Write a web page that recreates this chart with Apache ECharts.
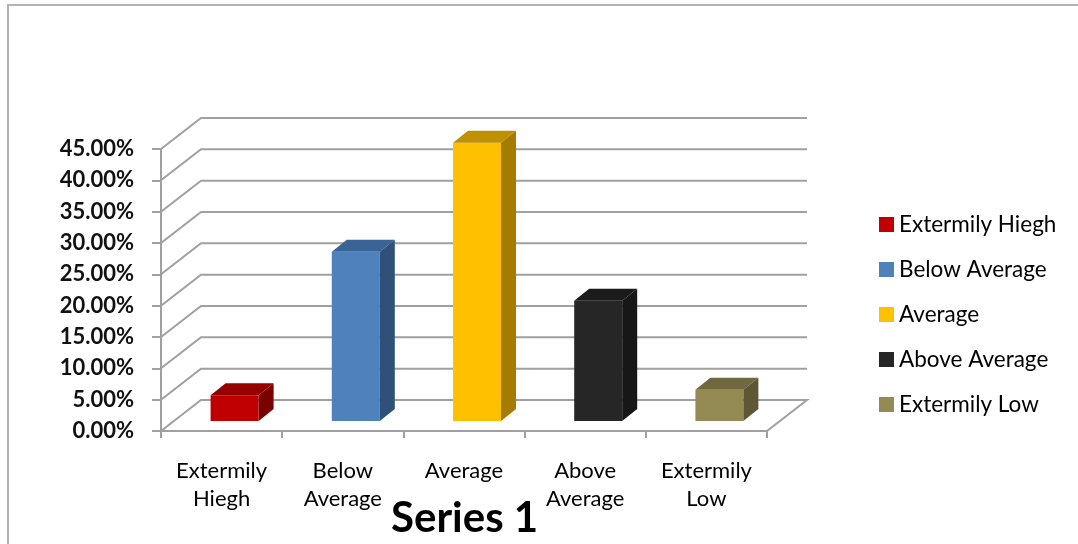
<!DOCTYPE html>
<html>
<head>
<meta charset="utf-8">
<script src="https://cdn.jsdelivr.net/npm/echarts@6/dist/echarts.min.js"></script>
<style>
html,body{margin:0;padding:0;background:#fff;}
#chart{width:1078px;height:544px;}
</style>
</head>
<body>
<div id="chart"></div>
<script>
// data
var categories=['Extermily Hiegh','Below Average','Average','Above Average','Extermily Low'];
var values=[0.041,0.270,0.444,0.192,0.050];
var yTicks=[0,0.05,0.10,0.15,0.20,0.25,0.30,0.35,0.40,0.45];
var frontColors=['#C00000','#4F81BD','#FFC000','#262626','#948A54'];
var topColors=['#960000','#3B6496','#BF9000','#1B1B1B','#6F6840'];
var sideColors=['#7B0000','#2F5079','#A67C00','#171717','#5D5735'];

// fake 3d depth (pixels)
var WALL_DX=40, WALL_DY=-31;
var BAR_OX=13, BAR_OY=-10, BAR_W=48, BAR_DX=15, BAR_DY=-12;
var FONT='Lato, "Open Sans", sans-serif';

var chart=echarts.init(document.getElementById('chart'));

function wallRender(params,api){
    var cs=params.coordSys;
    var v=api.value(0);
    var y=api.coord([0,v])[1];
    var x0=cs.x, x1=cs.x+cs.width;
    var pts=[[x0,y],[x0+WALL_DX,y+WALL_DY],[x1+WALL_DX,y+WALL_DY]];
    if(v===0){ pts.push([x1,y]); }
    return {
        type:'polyline',
        shape:{points:pts},
        style:{stroke:'#a0a0a0',lineWidth:2,fill:null}
    };
}

function barRender(params,api){
    var i=api.value(0), v=api.value(1);
    var base=api.coord([i,0]);
    var top=api.coord([i,v]);
    var k=params.seriesIndex-1;
    var xl=base[0]+BAR_OX-BAR_W/2, xr=xl+BAR_W;
    var yb=base[1]+BAR_OY, yt=top[1]+BAR_OY;
    return {
        type:'group',
        children:[
            {type:'rect',shape:{x:xl,y:yt,width:BAR_W,height:yb-yt},style:{fill:frontColors[k]}},
            {type:'polygon',shape:{points:[[xl,yt],[xr,yt],[xr+BAR_DX,yt+BAR_DY],[xl+BAR_DX,yt+BAR_DY]]},style:{fill:topColors[k]}},
            {type:'polygon',shape:{points:[[xr,yt],[xr+BAR_DX,yt+BAR_DY],[xr+BAR_DX,yb+BAR_DY],[xr,yb]]},style:{fill:sideColors[k]}}
        ]
    };
}

var series=[{
    name:'wall',
    type:'custom',
    renderItem:wallRender,
    data:yTicks.map(function(t){return [t];}),
    encode:{y:0},
    silent:true,
    z:1
}];
categories.forEach(function(c,i){
    series.push({
        name:c,
        type:'custom',
        renderItem:barRender,
        itemStyle:{color:frontColors[i]},
        data:[[i,values[i]]],
        encode:{x:0,y:1},
        z:3
    });
});

var option={
    animation:false,
    backgroundColor:'#fff',
    title:{
        text:'Series 1',
        left:386,top:492,
        textStyle:{fontFamily:FONT,fontSize:42,fontWeight:'bold',color:'#000'}
    },
    legend:{
        data:categories,
        orient:'vertical',
        left:874,top:208,
        icon:'rect',
        itemWidth:15,itemHeight:15,
        itemGap:22,
        textStyle:{fontFamily:FONT,fontSize:22.5,color:'#000',lineHeight:22.6}
    },
    grid:{left:161,right:311,top:149,bottom:113},
    xAxis:{
        type:'category',
        data:categories,
        axisLine:{lineStyle:{color:'#a0a0a0',width:2}},
        axisTick:{show:true,length:7,lineStyle:{color:'#a0a0a0',width:2}},
        axisLabel:{
            margin:26,
            fontFamily:FONT,fontSize:22,color:'#000',lineHeight:28,
            formatter:function(s){return s.replace(' ','\n');}
        },
        splitLine:{show:false}
    },
    yAxis:{
        type:'value',
        min:0,max:0.45,interval:0.05,
        axisLine:{show:true,lineStyle:{color:'#a0a0a0',width:2}},
        axisTick:{show:true,length:9,lineStyle:{color:'#a0a0a0',width:2}},
        axisLabel:{
            margin:27,
            fontFamily:FONT,fontSize:22,fontWeight:'bold',color:'#111',
            formatter:function(v){return (v*100).toFixed(2)+'%';}
        },
        splitLine:{show:false}
    },
    graphic:[{
        type:'rect',
        shape:{x:8,y:5,width:1200,height:700},
        style:{fill:null,stroke:'#b4b4b4',lineWidth:2},
        silent:true
    }],
    series:series
};
chart.setOption(option);
</script>
</body>
</html>
